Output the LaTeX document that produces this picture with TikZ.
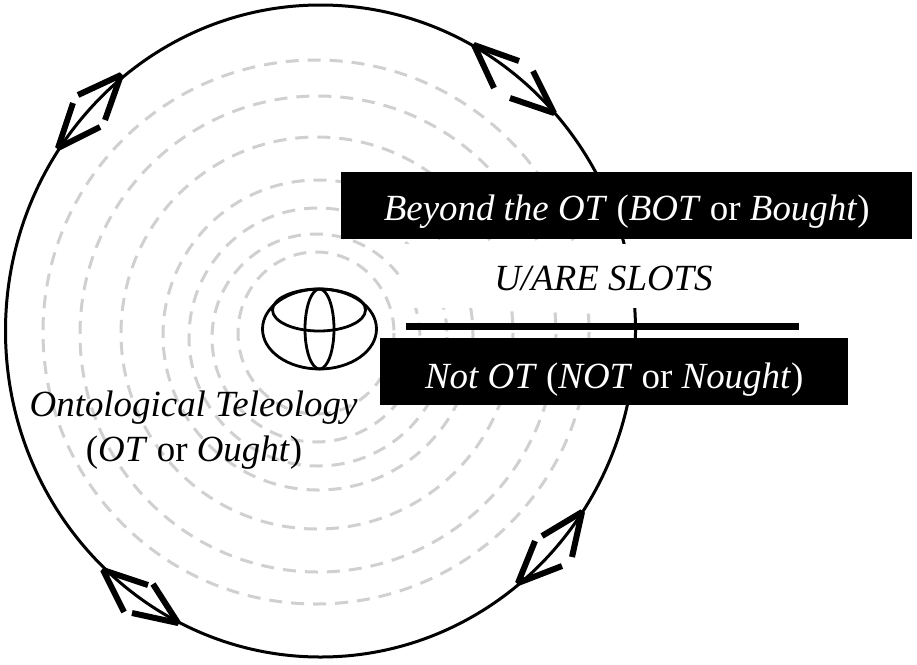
\documentclass[tikz,border=0pt]{standalone}
\usepackage{fontspec}
\setmainfont{Liberation Serif}
\tikzset{
  x=1pt,y=-1pt,
  gridring/.style={draw=ringgrey,line width=3pt,dash pattern=on 13pt off 9pt},
  orbit/.style={draw=black,line width=3pt},
  barb/.style={draw=black,line width=6pt,line cap=butt,line join=bevel},
  logoline/.style={draw=black,line width=2.8pt},
  blackbox/.style={fill=black,text=white,inner sep=0pt,font=\fontsize{36.9}{37}\selectfont},
  label/.style={text=black,inner sep=0pt,font=\fontsize{36.9}{37}\selectfont,align=center},
}
\definecolor{ringgrey}{HTML}{D0D0D0}
\begin{document}
\begin{tikzpicture}
\useasboundingbox (0,0) rectangle (917,664);
% grey rings
\draw[gridring] (316,333) ellipse [x radius=78,y radius=81];
\draw[gridring] (316,338) ellipse [x radius=104,y radius=104];
\draw[gridring] (318,337) ellipse [x radius=129,y radius=129];
\draw[gridring] (318,335) ellipse [x radius=155,y radius=155];
\draw[gridring] (317,333) ellipse [x radius=196,y radius=196];
\draw[gridring] (318,334) ellipse [x radius=238,y radius=238];
\draw[gridring] (316,332) ellipse [x radius=273,y radius=272];
% outer circle
\draw[orbit] (320.5,331) ellipse [x radius=315,y radius=326];
% arrow heads
\coordinate (a1) at (121,75); \coordinate (a2) at (58,148);
\draw[barb] (78,95) -- (a1) -- (105,120);
\draw[barb] (73,103) -- (a2) -- (100,127);
\coordinate (b1) at (474,45); \coordinate (b2) at (554,113);
\draw[barb] (519,61) -- (b1) -- (494,88);
\draw[barb] (510,98) -- (b2) -- (533,71);
\coordinate (c1) at (582,512); \coordinate (c2) at (518,583);
\draw[barb] (542,536) -- (c1) -- (572,557);
\draw[barb] (535,541) -- (c2) -- (562,566);
\coordinate (d1) at (103,570); \coordinate (d2) at (178,623);
\draw[barb] (148,585) -- (d1) -- (124,612);
\draw[barb] (132,613) -- (d2) -- (153,584);
% white panel
\fill[white] (401,243.5) rectangle (720,308);
% boxes
\node[blackbox,minimum width=571pt,text height=48pt,text depth=19pt,anchor=north west] (beyond) at (341,172)
  {\textit{Beyond the OT} (\textit{BOT} or \textit{Bought})};
\node[blackbox,minimum width=468pt,text height=50pt,text depth=17pt,anchor=north west] (notot) at (380,338)
  {\textit{Not OT} (\textit{NOT} or \textit{Nought})};
\fill[black] (406,323) rectangle (799,330);
\node[label,anchor=base] (slots) at (603.5,290) {\textit{U/ARE SLOTS}};
\node[label,anchor=base] (onto) at (193.5,416) {\textit{Ontological Teleology}};
\node[label,anchor=base] (ought) at (194,461) {(\textit{OT} or \textit{Ought})};
% logo
\draw[logoline] (319.5,329) ellipse [x radius=57,y radius=40];
\draw[logoline] (319.5,329) ellipse [x radius=14.5,y radius=40];
\draw[logoline] (319,310) ellipse [x radius=46.5,y radius=21];
\end{tikzpicture}
\end{document}
